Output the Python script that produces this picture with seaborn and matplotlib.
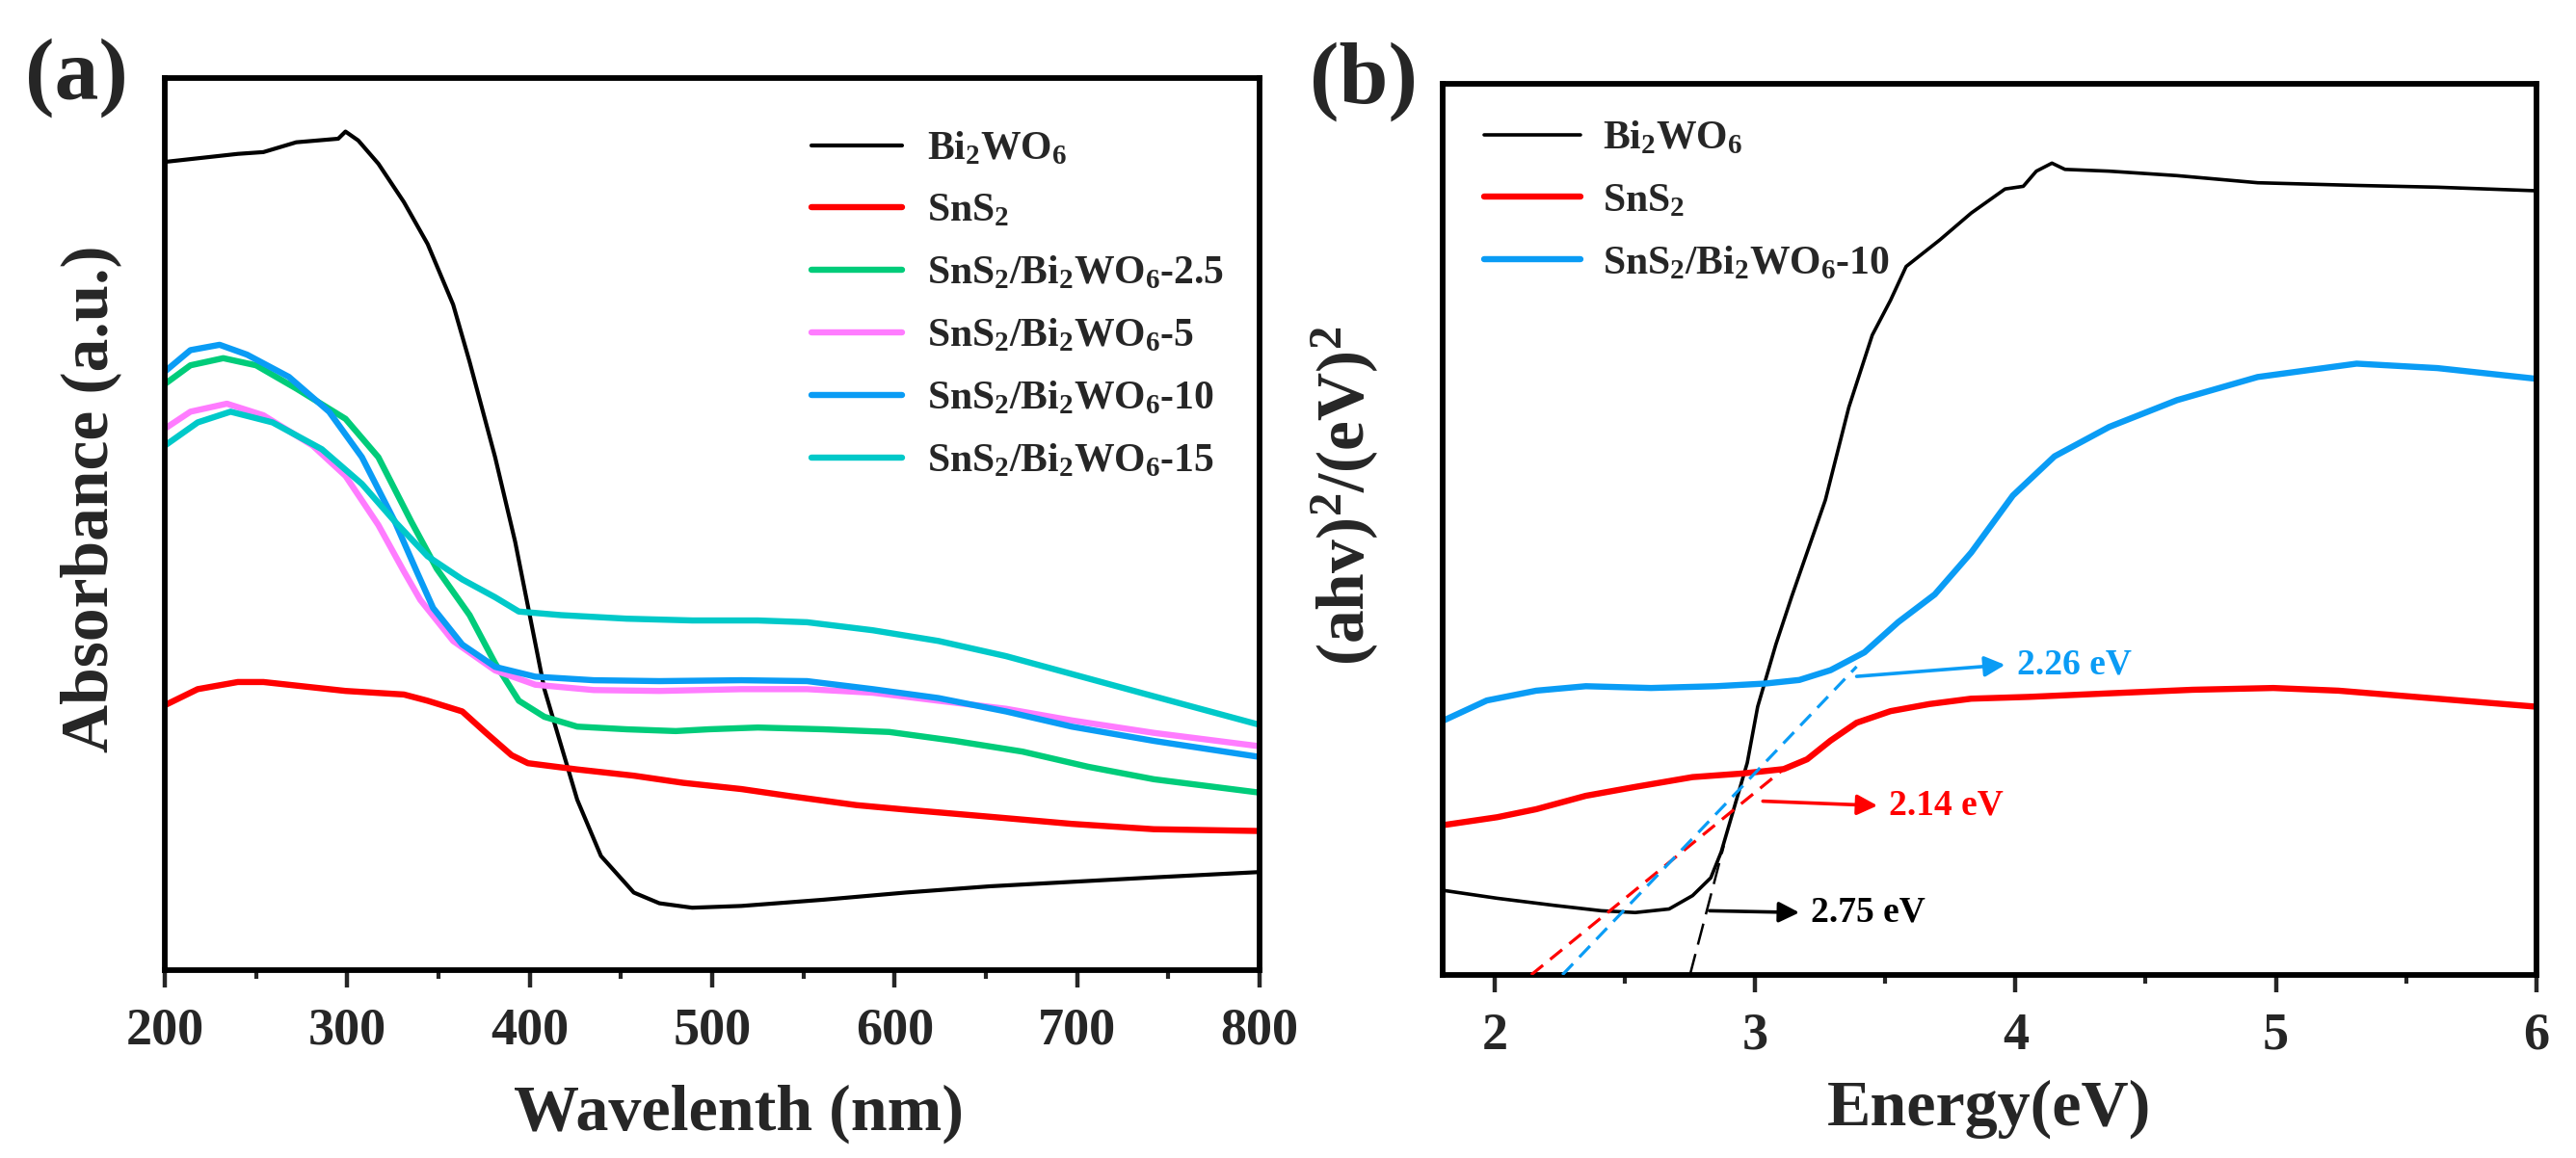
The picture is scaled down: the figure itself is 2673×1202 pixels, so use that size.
import numpy as np
import pandas as pd
import matplotlib
matplotlib.use("Agg")
import matplotlib.pyplot as plt
from matplotlib.ticker import MultipleLocator
import seaborn as sns

# ---------------- data: panel (a) UV-vis absorbance ----------------
bi_wl = [200, 240, 254, 272, 295, 299, 306, 317, 331, 344, 358, 367, 381, 392, 408, 417, 426, 439, 457, 471, 489, 516, 561, 606, 652, 697, 742, 800]
bi_abs = [0.906, 0.915, 0.917, 0.928, 0.932, 0.940, 0.930, 0.904, 0.861, 0.814, 0.746, 0.682, 0.575, 0.480, 0.315, 0.253, 0.191, 0.128, 0.087, 0.075, 0.070, 0.072, 0.079, 0.087, 0.094, 0.099, 0.104, 0.110]

sn_wl = [200, 218, 240, 254, 272, 299, 331, 344, 363, 376, 390, 399, 426, 457, 484, 516, 543, 579, 606, 652, 697, 742, 800]
sn_abs = [0.297, 0.315, 0.323, 0.323, 0.319, 0.313, 0.309, 0.302, 0.290, 0.266, 0.241, 0.232, 0.225, 0.218, 0.210, 0.203, 0.195, 0.185, 0.180, 0.172, 0.164, 0.158, 0.156]

c25_wl = [200, 214, 232, 250, 272, 299, 317, 335, 349, 367, 381, 394, 408, 426, 453, 480, 498, 525, 561, 597, 633, 670, 706, 742, 800]
c25_abs = [0.657, 0.678, 0.686, 0.678, 0.652, 0.618, 0.575, 0.503, 0.450, 0.398, 0.344, 0.302, 0.284, 0.273, 0.270, 0.268, 0.270, 0.272, 0.270, 0.267, 0.257, 0.245, 0.228, 0.214, 0.199]

c5_wl = [200, 214, 234, 254, 281, 299, 317, 331, 340, 358, 381, 403, 435, 471, 516, 552, 588, 624, 661, 697, 742, 800]
c5_abs = [0.607, 0.626, 0.635, 0.622, 0.588, 0.554, 0.499, 0.447, 0.415, 0.369, 0.336, 0.320, 0.314, 0.313, 0.315, 0.315, 0.311, 0.302, 0.293, 0.280, 0.266, 0.251]

c10_wl = [200, 214, 230, 245, 268, 290, 308, 326, 338, 347, 363, 381, 403, 435, 471, 516, 552, 588, 624, 661, 697, 742, 800]
c10_abs = [0.671, 0.695, 0.701, 0.690, 0.665, 0.626, 0.575, 0.503, 0.447, 0.406, 0.365, 0.340, 0.329, 0.325, 0.324, 0.325, 0.324, 0.315, 0.305, 0.290, 0.273, 0.257, 0.239]

c15_wl = [200, 218, 236, 259, 286, 308, 326, 344, 363, 381, 394, 417, 453, 489, 525, 552, 588, 624, 661, 697, 742, 800]
c15_abs = [0.588, 0.614, 0.626, 0.614, 0.584, 0.545, 0.503, 0.464, 0.438, 0.418, 0.402, 0.398, 0.394, 0.392, 0.392, 0.390, 0.381, 0.369, 0.352, 0.332, 0.307, 0.275]

labels_a = [r'Bi$_2$WO$_6$', r'SnS$_2$', r'SnS$_2$/Bi$_2$WO$_6$-2.5', r'SnS$_2$/Bi$_2$WO$_6$-5',
            r'SnS$_2$/Bi$_2$WO$_6$-10', r'SnS$_2$/Bi$_2$WO$_6$-15']

# ---------------- data: panel (b) Tauc plot ----------------
bi_e = [1.80, 2.01, 2.23, 2.41, 2.54, 2.67, 2.76, 2.83, 2.87, 2.92, 2.97, 3.01, 3.08, 3.14, 3.27, 3.36, 3.45, 3.52, 3.58, 3.71, 3.83, 3.96, 4.03, 4.08, 4.14, 4.19, 4.36, 4.62, 4.93, 5.31, 5.62, 6.00]
bi_t = [0.095, 0.086, 0.078, 0.072, 0.070, 0.074, 0.089, 0.109, 0.138, 0.188, 0.238, 0.301, 0.371, 0.424, 0.533, 0.637, 0.718, 0.757, 0.795, 0.825, 0.855, 0.882, 0.885, 0.902, 0.911, 0.904, 0.902, 0.897, 0.889, 0.886, 0.884, 0.880]

sn_e = [1.80, 2.01, 2.16, 2.35, 2.54, 2.76, 2.95, 3.11, 3.20, 3.29, 3.39, 3.52, 3.67, 3.83, 4.05, 4.36, 4.68, 4.99, 5.24, 5.62, 6.00]
sn_t = [0.168, 0.177, 0.186, 0.201, 0.211, 0.222, 0.226, 0.231, 0.242, 0.263, 0.283, 0.296, 0.304, 0.310, 0.312, 0.316, 0.320, 0.322, 0.319, 0.310, 0.301]

c10_e = [1.80, 1.97, 2.16, 2.35, 2.60, 2.85, 3.04, 3.17, 3.29, 3.42, 3.55, 3.69, 3.83, 3.99, 4.15, 4.36, 4.62, 4.93, 5.31, 5.62, 6.00]
c10_t = [0.285, 0.308, 0.319, 0.324, 0.322, 0.324, 0.327, 0.331, 0.342, 0.362, 0.396, 0.427, 0.474, 0.538, 0.582, 0.615, 0.645, 0.671, 0.686, 0.681, 0.669]

labels_b = [r'Bi$_2$WO$_6$', r'SnS$_2$', r'SnS$_2$/Bi$_2$WO$_6$-10']

# band gaps and tangent end points (extrapolation lines)
gap_values = [2.75, 2.14, 2.26]
tangent_end_e = [2.88, 3.11, 3.39]
tangent_end_t = [0.145, 0.231, 0.346]
gap_labels = ['2.75 eV', '2.14 eV', '2.26 eV']
# arrow tail / head positions (energy, tauc)
arrow_tail = [(2.825, 0.072), (3.03, 0.195), (3.39, 0.335)]
arrow_head = [(3.17, 0.070), (3.47, 0.190), (3.96, 0.348)]

# ---------------- style ----------------
sns.set_style('ticks')
plt.rcParams['font.family'] = ['Liberation Serif', 'DejaVu Serif']
plt.rcParams['font.weight'] = 'bold'
plt.rcParams['mathtext.default'] = 'regular'
plt.rcParams['axes.linewidth'] = 4.2
plt.rcParams['axes.edgecolor'] = 'black'

BLACK = '#000000'
RED = '#FF0000'
GREEN = '#00CC7A'
PINK = '#FF7CFF'
BLUE = '#0A9CF5'
CYAN = '#00C9C9'

fig = plt.figure(figsize=(26.73, 12.02), dpi=100)
axa = fig.add_axes([0.0640, 0.1622, 0.4250, 0.7704])
axb = fig.add_axes([0.5600, 0.1581, 0.4246, 0.7695])

# panel (a)
series_a = [(bi_wl, bi_abs, BLACK, 3.0), (sn_wl, sn_abs, RED, 4.6), (c25_wl, c25_abs, GREEN, 4.6),
            (c5_wl, c5_abs, PINK, 4.6), (c10_wl, c10_abs, BLUE, 4.6), (c15_wl, c15_abs, CYAN, 4.6)]
for (xs, ys, col, lw), lab in zip(series_a, labels_a):
    df = pd.DataFrame({'x': xs, 'y': ys})
    sns.lineplot(data=df, x='x', y='y', ax=axa, color=col, lw=lw, label=lab,
                 sort=False, estimator=None)

# panel (b)
series_b = [(bi_e, bi_t, BLACK, 2.6), (sn_e, sn_t, RED, 4.6), (c10_e, c10_t, BLUE, 4.6)]
for (xs, ys, col, lw), lab in zip(series_b, labels_b):
    df = pd.DataFrame({'x': xs, 'y': ys})
    sns.lineplot(data=df, x='x', y='y', ax=axb, color=col, lw=lw, label=lab,
                 sort=False, estimator=None)

# tangent extrapolation lines
tan_styles = [(BLACK, 1.8, (9, 4)), (RED, 2.3, (5, 3)), (BLUE, 2.3, (5, 3))]
for g, xe, ye, (col, lw, dash) in zip(gap_values, tangent_end_e, tangent_end_t, tan_styles):
    axb.plot([g, xe], [0.0, ye], color=col, lw=lw, dashes=dash, zorder=3)

# arrows and gap labels
for lab, tail, head, (col, _, _) in zip(gap_labels, arrow_tail, arrow_head, tan_styles):
    axb.annotate('', xy=head, xytext=tail,
                 arrowprops=dict(arrowstyle='-|>', color=col, lw=2.6, mutation_scale=32,
                                 shrinkA=0, shrinkB=0))
    axb.text(head[0] + 0.045, head[1], lab, color=col, fontsize=27, fontweight='bold',
             ha='left', va='center')

# axes formatting
for ax in (axa, axb):
    ax.set_yticks([])
    ax.set_ylim(0, 1)
    ax.tick_params(axis='x', which='major', direction='out', length=13, width=3.2,
                   labelsize=39, pad=15)
    ax.tick_params(axis='x', which='minor', direction='out', length=6.5, width=3.0)
    for lab in ax.get_xticklabels():
        lab.set_fontweight('bold')
    for sp in ax.spines.values():
        sp.set_linewidth(4.2)
        sp.set_visible(True)

axa.set_xlim(200, 800)
axa.xaxis.set_major_locator(MultipleLocator(100))
axa.xaxis.set_minor_locator(MultipleLocator(50))
axb.set_xlim(1.8, 6)
axb.xaxis.set_major_locator(MultipleLocator(1))
axb.xaxis.set_minor_locator(MultipleLocator(0.5))

axa.set_xlabel('Wavelenth (nm)', fontsize=49, fontweight='bold')
axa.set_ylabel('Absorbance (a.u.)', fontsize=50, fontweight='bold')
axb.set_xlabel('Energy(eV)', fontsize=49, fontweight='bold')
axb.set_ylabel(r'(ahv)$^{2}$/(eV)$^{2}$', fontsize=50, fontweight='bold')
axa.xaxis.set_label_coords(0.524, -0.128)
axb.xaxis.set_label_coords(0.500, -0.117)
axa.yaxis.set_label_coords(-0.040, 0.528)
axb.yaxis.set_label_coords(-0.056, 0.537)

leg_a = axa.legend(loc='upper left', bbox_to_anchor=(0.591, 0.941), frameon=False,
                   fontsize=30, handlelength=2.25, handletextpad=0.62, labelspacing=0.63,
                   borderpad=0, borderaxespad=0)
leg_b = axb.legend(loc='upper left', bbox_to_anchor=(0.038, 0.959), frameon=False,
                   fontsize=30, handlelength=2.4, handletextpad=0.55, labelspacing=0.63,
                   borderpad=0, borderaxespad=0)
for leg in (leg_a, leg_b):
    for t in leg.get_texts():
        t.set_fontweight('bold')

fig.text(0.0296, 0.9326, '(a)', fontsize=66, fontweight='bold', ha='center', va='center')
fig.text(0.5294, 0.9300, '(b)', fontsize=66, fontweight='bold', ha='center', va='center')

fig.savefig('out.png', dpi=100)
